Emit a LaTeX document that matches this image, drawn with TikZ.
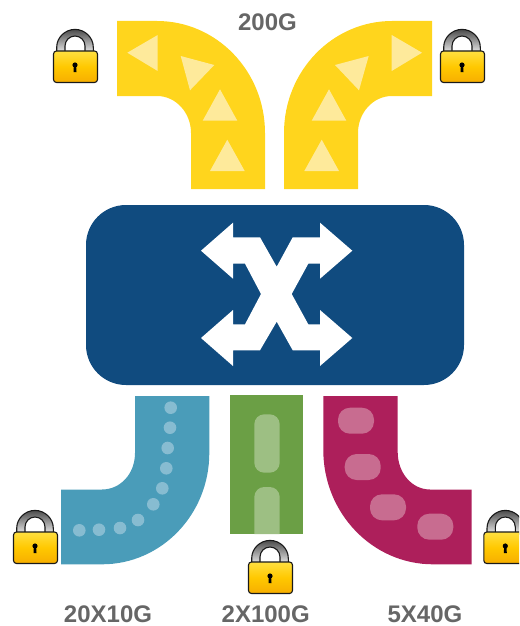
\documentclass[tikz,border=0pt]{standalone}
\usepackage{fontspec}
\setmainfont{Liberation Sans}
\definecolor{bandyellow}{HTML}{FFD51D}
\definecolor{markyellow}{HTML}{FEEA9B}
\definecolor{swblue}{HTML}{104B7F}
\definecolor{bandteal}{HTML}{4A9CB9}
\definecolor{markteal}{HTML}{87BCD1}
\definecolor{bandgreen}{HTML}{6B9F45}
\definecolor{markgreen}{HTML}{9DBF83}
\definecolor{bandpink}{HTML}{AD1F5B}
\definecolor{markpink}{HTML}{C86C90}
\definecolor{labelgray}{HTML}{666666}
\definecolor{lockgoldtop}{HTML}{FFE040}
\definecolor{lockgoldmid}{HTML}{FFC800}
\definecolor{lockgoldlow}{HTML}{F7AE00}
\tikzset{
  x=1pt,y=-1pt,
  speedlabel/.style={anchor=base,inner sep=0pt,text=labelgray,font=\fontsize{24}{24}\selectfont\bfseries},
  trimark/.style={fill=markyellow},
  dotmark/.style={fill=markteal},
  pillmark/.style={fill=markpink,rounded corners=12pt},
  lockicon/.pic={
    \path[even odd rule,draw=black!90,line width=1.1pt,top color=black!70,bottom color=black!8]
      (3.7,24) -- (3.7,18.3) .. controls (3.7,8.2) and (12.4,0.4) .. (22,0.4)
      .. controls (31.6,0.4) and (40.3,8.2) .. (40.3,18.3) -- (40.3,24) -- (32,24) -- (32,17)
      .. controls (32,11.5) and (27.5,7) .. (22,7) .. controls (16.5,7) and (12,11.5) .. (12,17)
      -- (12,24) -- cycle;
    \path[draw=black!90,line width=1.1pt,rounded corners=3pt,top color=lockgoldtop,bottom color=lockgoldlow,middle color=lockgoldmid]
      (0.5,22) rectangle (44.5,53.5);
    \fill[black] (22,36) circle (2.6);
    \fill[black] (20.9,36) -- (23.1,36) -- (23.5,43) -- (20.5,43) -- cycle;
  }
}
\begin{document}
\begin{tikzpicture}
\clip (0,0) rectangle (519,626);
% top bands
\fill[bandyellow] (117,21) -- (157,21) .. controls (216.6,21) and (265,71.1) .. (265,133) -- (265,189) -- (191,189) -- (191,133) .. controls (191,112.6) and (175.8,96) .. (157,96) -- (117,96) -- cycle;
\fill[bandyellow] (432,21) -- (392,21) .. controls (332.4,21) and (284,71.1) .. (284,133) -- (284,189) -- (358,189) -- (358,133) .. controls (358,112.6) and (373.2,96) .. (392,96) -- (432,96) -- cycle;
\fill[trimark] (127.3,52.7) -- (157.7,35) -- (157.7,71) -- cycle;
\fill[trimark] (180.7,56) -- (214.3,65) -- (190,90.3) -- cycle;
\fill[trimark] (220,89.3) -- (237.3,120.7) -- (202.7,120.7) -- cycle;
\fill[trimark] (227.3,139.7) -- (244.7,171) -- (210,171) -- cycle;
\fill[trimark] (422,52.7) -- (391.7,35) -- (391.7,71) -- cycle;
\fill[trimark] (335,65) -- (368.7,56) -- (359,90.3) -- cycle;
\fill[trimark] (329,89.3) -- (346.3,120.7) -- (311.7,120.7) -- cycle;
\fill[trimark] (321.7,139.7) -- (339,171) -- (304.3,171) -- cycle;
% switch
\fill[swblue,rounded corners=40pt] (86,205) rectangle (464,385);
\fill[white] (201,250.7) -- (233,222.7) -- (233,237.3) -- (260,237.3) -- (276.7,266.7) -- (292.7,237.3) -- (320,237.3) -- (320,222.7) -- (352.3,250.7) -- (320,278.7) -- (320,263.7) -- (308.3,263.7) -- (291.7,294) -- (308.3,324.3) -- (320,324.3) -- (320,310) -- (352.3,338) -- (320,366) -- (320,350.3) -- (292.7,350.3) -- (276.7,321.7) -- (260,350.3) -- (233,350.3) -- (233,366) -- (201,338) -- (233,310) -- (233,324.3) -- (245,324.3) -- (261,294) -- (245,263.7) -- (233,263.7) -- (233,278.7) -- cycle;
% teal band
\fill[bandteal] (135,396) -- (209.3,396) -- (209.3,453) .. controls (209.3,514.6) and (161.2,564.3) .. (102,564.3) -- (61,564.3) -- (61,489.5) -- (102,489.5) .. controls (120.2,489.5) and (135,474) .. (135,453) -- cycle;
\foreach \px/\py in {170.7/407.7,170/427.7,167.7/448,166.3/468.3,162.3/488.3,153.3/504.3,138/520,120/528,99/529.7,79.3/530.3}
  \fill[dotmark] (\px,\py) circle (6.3);
% green band
\fill[bandgreen] (230,395) rectangle (303,534);
\fill[markgreen,rounded corners=10pt] (254.3,414.3) rectangle (279.7,472.7);
\fill[markgreen] (254.3,534) [rounded corners=10pt] -- (254.3,487) -- (279.7,487) [sharp corners] -- (279.7,534) -- cycle;
% magenta band
\fill[bandpink] (323.3,396) -- (323.3,450) .. controls (323.3,513) and (372.4,564.3) .. (433,564.3) -- (471.7,564.3) -- (471.7,489.5) -- (430,489.5) .. controls (412,489.5) and (397.7,473) .. (397.7,452) -- (397.7,396) -- cycle;
\foreach \px/\py in {356/420.7,362.7/467,388/507.3,435.3/526.7}
  \fill[pillmark] (\px-18,\py-13) rectangle (\px+18,\py+13);
% locks
\pic at (53,29) {lockicon};
\pic at (440,29) {lockicon};
\pic at (13,510) {lockicon};
\pic at (248,540) {lockicon};
\pic at (483.3,510) {lockicon};
% labels
\node[speedlabel] (top) at (267.5,31) {200G};
\node[speedlabel] (teal) at (108,622.3) {20X10G};
\node[speedlabel] (green) at (265.7,622.3) {2X100G};
\node[speedlabel] (pink) at (425,622.3) {5X40G};
\end{tikzpicture}
\end{document}
